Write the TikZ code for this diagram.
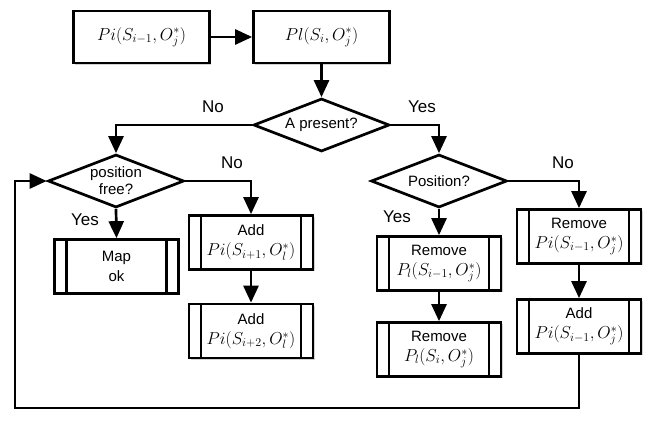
\documentclass[tikz,border=0pt]{standalone}
\usepackage{fontspec}
\setmainfont{Liberation Sans}
\usetikzlibrary{arrows.meta,shapes.geometric,shadows}
\newcommand\mymth[1]{{\fontsize{17}{20}\selectfont$#1$}}
\begin{document}
\begin{tikzpicture}[x=1pt,y=-1pt,
  conn/.style={line width=2.7pt,-{Triangle[length=17pt,width=15pt]}},
  plainbox/.style={draw,line width=2.7pt,fill=white,minimum width=136pt,minimum height=52pt,inner sep=0pt,
    font=\fontsize{15}{18}\selectfont,drop shadow={shadow xshift=1.5pt,shadow yshift=-1.5pt,opacity=0.35}},
  subbox/.style={draw,line width=2.7pt,fill=white,minimum width=124pt,minimum height=54pt,inner sep=0pt,
    align=center,font=\fontsize{15}{20}\selectfont,
    drop shadow={shadow xshift=1.5pt,shadow yshift=-1.5pt,opacity=0.35},
    path picture={
      \draw[line width=2.2pt] ([xshift=12pt]path picture bounding box.north west) -- ([xshift=12pt]path picture bounding box.south west);
      \draw[line width=2.2pt] ([xshift=-12pt]path picture bounding box.north east) -- ([xshift=-12pt]path picture bounding box.south east);}},
  decision/.style={draw,diamond,line width=2.7pt,fill=white,aspect=2.5,inner sep=0pt,
    minimum width=136pt,minimum height=53pt,align=center,font=\fontsize{15}{17}\selectfont},
  lab/.style={font=\fontsize{17}{20}\selectfont,inner sep=0pt}]
\useasboundingbox (0,0) rectangle (652,420);

\node[plainbox] (b1) at (141.5,37) {\mymth{Pi(S_{i-1},O_j^*)}};
\node[plainbox] (b2) at (321.5,37) {\mymth{Pl(S_i,O_j^*)}};
\node[decision] (d1) at (321.5,125) {A present?};
\node[decision] (d2) at (116,181) {position\\free?};
\node[decision] (d3) at (439,181) {Position?};

\node[subbox] (map) at (116.5,266.5) {Map\\ok};
\node[subbox] (add1) at (251,242.5) {Add\\\mymth{Pi(S_{i+1},O_l^*)}};
\node[subbox] (add2) at (251,331) {Add\\\mymth{Pi(S_{i+2},O_l^*)}};
\node[subbox] (rl1) at (439,263.5) {Remove\\\mymth{P_l(S_{i-1},O_j^*)}};
\node[subbox] (rl2) at (439,349.5) {Remove\\\mymth{P_l(S_i,O_j^*)}};
\node[subbox] (rpi) at (579,236.5) {Remove\\\mymth{Pi(S_{i-1},O_j^*)}};
\node[subbox] (api) at (579,326.5) {Add\\\mymth{Pi(S_{i-1},O_j^*)}};

\node[lab] (l1) at (213,107) {No};
\node[lab] (l2) at (422,107) {Yes};
\node[lab] (l3) at (232,163) {No};
\node[lab] (l4) at (85,220) {Yes};
\node[lab] (l5) at (563,163) {No};
\node[lab] (l6) at (397,217) {Yes};

\coordinate (cb) at (15,408);

\draw[conn] (b1) -- (b2);
\draw[conn] (b2) -- (d1);
\draw[conn] (d1.west) -| (d2.north);
\draw[conn] (d1.east) -| (d3.north);
\draw[conn] (d2.east) -| (add1.north);
\draw[conn] (d2.south) -- (map.north);
\draw[conn] (add1) -- (add2);
\draw[conn] (d3.east) -| (rpi.north);
\draw[conn] (d3.south) -- (rl1.north);
\draw[conn] (rl1) -- (rl2);
\draw[conn] (rpi) -- (api);
\draw[conn] (api.south) -- (api.south |- cb) -- (cb) |- (d2.west);
\end{tikzpicture}
\end{document}
